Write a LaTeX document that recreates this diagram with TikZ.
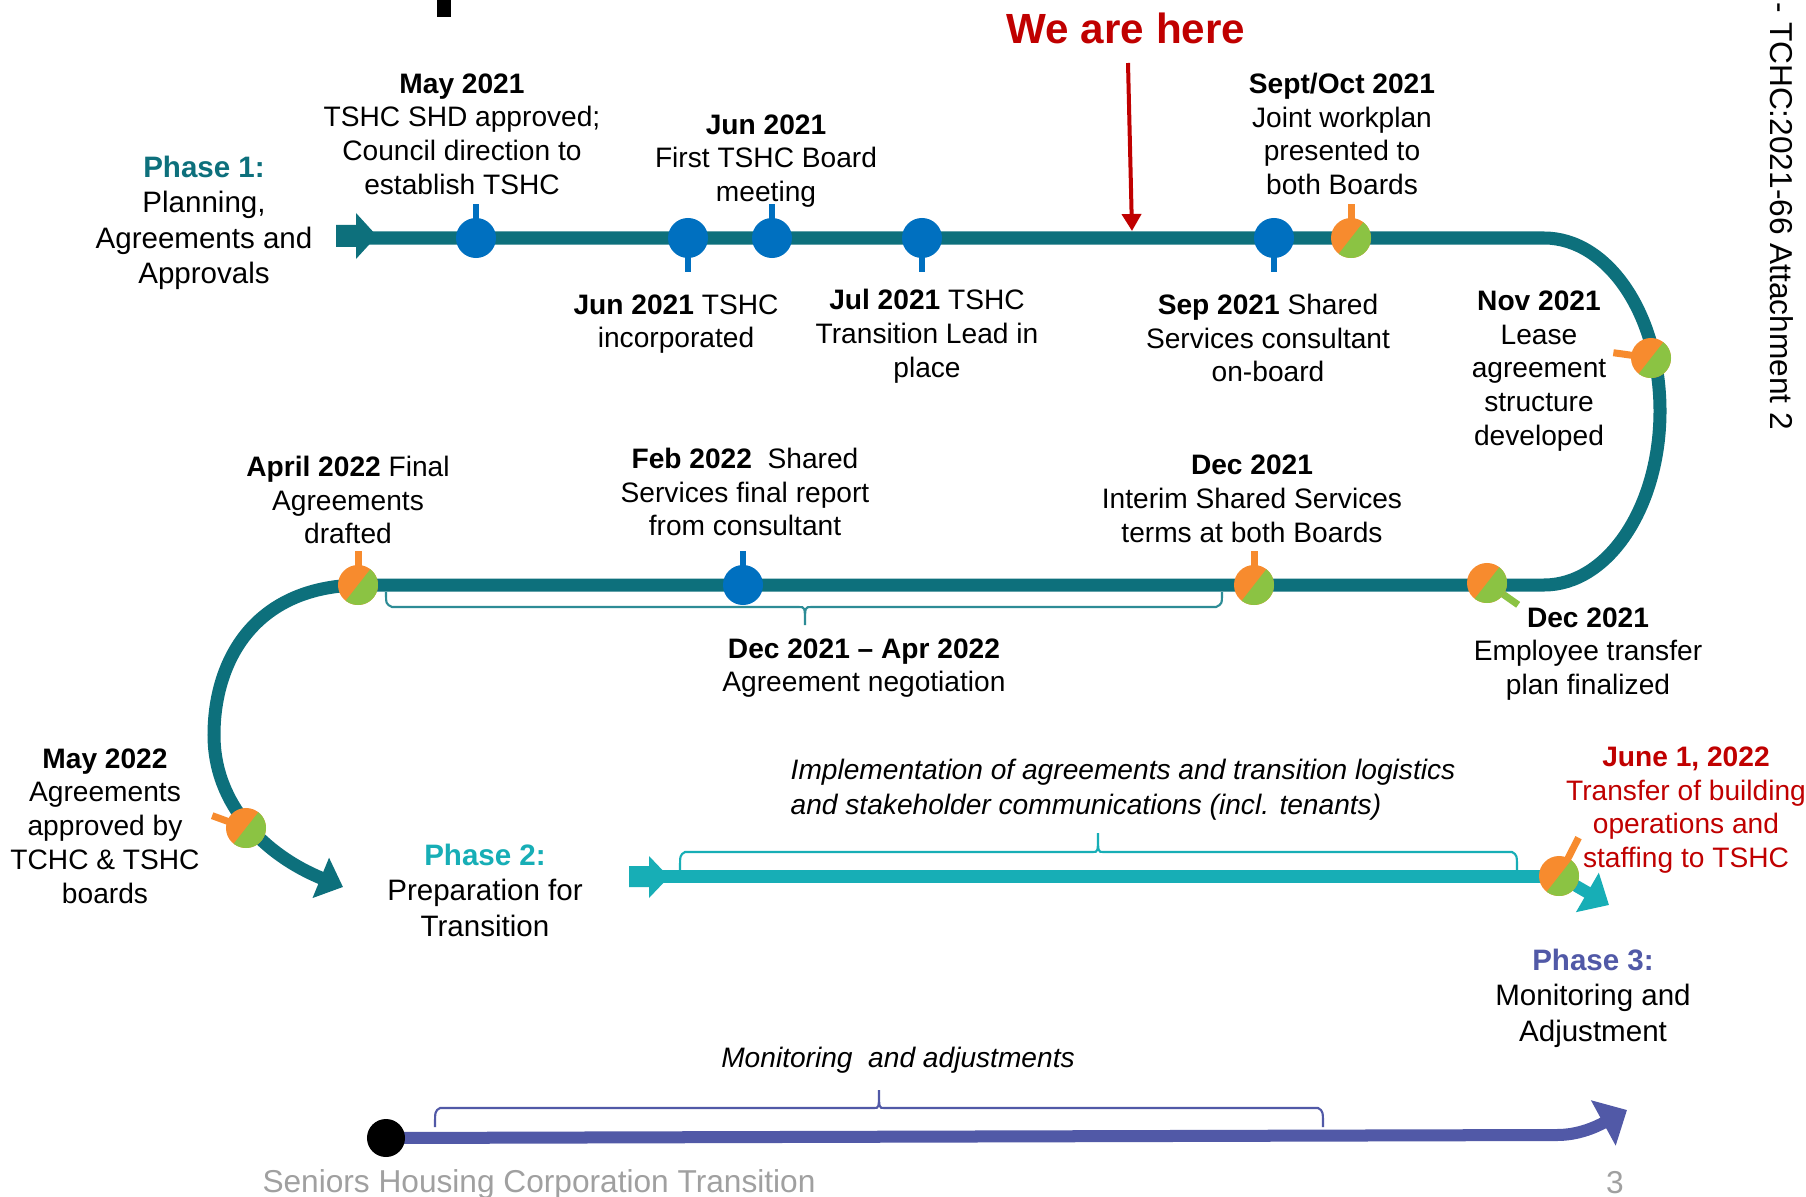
\documentclass[tikz,border=0pt]{standalone}
\usepackage{fontspec}
\setmainfont{Liberation Sans}
\usetikzlibrary{arrows.meta}
\definecolor{teal1}{RGB}{13,112,124}
\definecolor{tlblue}{RGB}{0,112,192}
\definecolor{oran}{RGB}{247,139,46}
\definecolor{gren}{RGB}{139,195,67}
\definecolor{cyan1}{RGB}{23,174,182}
\definecolor{purp}{RGB}{81,89,167}
\definecolor{redd}{RGB}{192,0,0}
\definecolor{grayt}{RGB}{160,160,160}
\definecolor{brteal}{RGB}{45,140,150}
\begin{document}
\begin{tikzpicture}[x=0.01cm, y=-0.01cm,
  ev/.style={font=\fontsize{8}{9.6}\selectfont, align=center, inner sep=0pt},
  ph/.style={font=\fontsize{8.4}{10.1}\selectfont, align=center, inner sep=0pt},
  track/.style={line width=0.13cm},
  thinbr/.style={line width=0.6pt},
  pics/bdot/.style={code={
     \draw[tlblue, line width=0.065cm] (0,0) -- (#1:0.34cm);
     \fill[tlblue] (0,0) circle[radius=0.2cm];}},
  pics/ogdot/.style n args={3}{code={
     \draw[#2, line width=0.07cm] (0,0) -- (#1:#3);
     \fill[oran] (0,0) circle[radius=0.2cm];
     \fill[gren] (52:0.2cm) arc[start angle=52, end angle=-128, radius=0.2cm] -- cycle;}},
]
% background and bounding box
\fill[white] (0,0) rectangle (1806,1197);
\useasboundingbox (0,0) rectangle (1806,1197);
\fill[black] (437,0) rectangle (451,17);

% marker positions
\coordinate (m1) at (476,238);
\coordinate (m2) at (688,238);
\coordinate (m3) at (772,238);
\coordinate (m4) at (922,238);
\coordinate (m5) at (1274,238);
\coordinate (m6) at (1351,238);
\coordinate (m7) at (1651,358);
\coordinate (m8) at (1487,583);
\coordinate (m9) at (1254,585);
\coordinate (m10) at (743,585);
\coordinate (m11) at (358,585);
\coordinate (m12) at (246,828);
\coordinate (m13) at (1559,876);

% Phase 1 track (top row, right loop, second row, left loop)
\coordinate (t1s) at (350,238);
\coordinate (t1e) at (343,887);
\draw[teal1, track, -{Triangle[length=0.24cm, width=0.42cm]}]
  (t1s) -- (1544,238) .. controls (1608,238) and (1660,315) .. (1660,411)
  .. controls (1660,507) and (1608,585) .. (1544,585) -- (m11)
  .. controls (255,587) and (214,660) .. (214,735)
  .. controls (214,805) and (265,855) .. (t1e);
\fill[teal1] (336,225) -- (356,225) -- (356,213) -- (377,236) -- (356,259) -- (356,247) -- (336,247) -- cycle;

% Phase 2 track
\fill[cyan1] (629,866) -- (649,866) -- (649,856) -- (669,877) -- (649,898) -- (649,887) -- (629,887) -- cycle;
\coordinate (t2s) at (660,876);
\coordinate (t2e) at (1609,905);
\draw[cyan1, track] (t2s) -- (m13);
\draw[cyan1, line width=0.12cm, -{Triangle[length=0.25cm, width=0.44cm]}] (m13) -- (t2e);

% Phase 3 track
\coordinate (t3s) at (386,1138);
\coordinate (t3e) at (1627,1110);
\draw[purp, line width=0.12cm, -{Triangle[length=0.27cm, width=0.5cm]}]
  (t3s) -- (1557,1135) .. controls (1577,1135) and (1594,1128) .. (t3e);
\fill[black] (t3s) circle[radius=0.19cm];

% brackets
\draw[brteal, thinbr] (386,592) .. controls (386,604) .. (392,607) -- (799,607)
  .. controls (805,607) .. (805,625) .. controls (805,607) .. (811,607) -- (1216,607)
  .. controls (1222,604) .. (1222,592);
\draw[cyan1, thinbr] (680,870) .. controls (680,855) .. (685,852) -- (1093,852)
  .. controls (1098,852) .. (1098,833) .. controls (1098,852) .. (1103,852) -- (1512,852)
  .. controls (1517,855) .. (1517,870);
\draw[purp, thinbr] (435,1127) .. controls (435,1111) .. (440,1108) -- (874,1108)
  .. controls (879,1108) .. (879,1090) .. controls (879,1108) .. (884,1108) -- (1318,1108)
  .. controls (1323,1111) .. (1323,1127);

% We are here arrow
\coordinate (hs) at (1128,63);
\coordinate (he) at (1132,231);
\draw[redd, line width=0.04cm, -{Triangle[length=0.17cm, width=0.19cm]}] (hs) -- (he);

% markers
\pic at (m1) {bdot=90};
\pic at (m2) {bdot=-90};
\pic at (m3) {bdot=90};
\pic at (m4) {bdot=-90};
\pic at (m5) {bdot=-90};
\pic at (m6) {ogdot={90}{oran}{0.34cm}};
\pic at (m7) {ogdot={172}{oran}{0.38cm}};
\pic at (m8) {ogdot={-35}{gren}{0.38cm}};
\pic at (m9) {ogdot={90}{oran}{0.34cm}};
\pic at (m10) {bdot=90};
\pic at (m11) {ogdot={90}{oran}{0.34cm}};
\pic at (m12) {ogdot={160}{oran}{0.36cm}};
\pic at (m13) {ogdot={63}{oran}{0.43cm}};

% texts
\node[ph] (p1) at (204,223) {\textcolor{teal1}{\textbf{Phase 1:}}\\Planning,\\Agreements and\\Approvals};
\node[ev] (e1) at (462,134) {\textbf{May 2021}\\TSHC SHD approved;\\Council direction to\\establish TSHC};
\node[ev] (e2) at (766,161) {\textbf{Jun 2021}\\First TSHC Board\\meeting};
\node[ev] (e3) at (676,324) {\textbf{Jun 2021} TSHC\\incorporated};
\node[ev] (e4) at (927,336) {\textbf{Jul 2021} TSHC\\Transition Lead in\\place};
\node[font=\fontsize{12}{14}\selectfont\bfseries, text=redd, inner sep=0pt] (here) at (1126,28) {We are here};
\node[ev] (e5) at (1342,134) {\textbf{Sept/Oct 2021}\\Joint workplan\\presented to\\both Boards};
\node[ev] (e6) at (1268,338) {\textbf{Sep 2021} Shared\\Services consultant\\on-board};
\node[ev] (e7) at (1539,371) {\textbf{Nov 2021}\\Lease\\agreement\\structure\\developed};
\node[ev] (e8) at (348,500) {\textbf{April 2022} Final\\Agreements\\drafted};
\node[ev] (e9) at (745,492) {\textbf{Feb 2022}\ \ Shared\\Services final report\\from consultant};
\node[ev] (e10) at (1252,499) {\textbf{Dec 2021}\\Interim Shared Services\\terms at both Boards};
\node[ev] (e11) at (1588,654) {\textbf{Dec 2021}\\Employee transfer\\plan finalized};
\node[ev] (e12) at (864,668) {\textbf{Dec 2021 – Apr 2022}\\Agreement negotiation};
\node[ev] (e13) at (105,826) {\textbf{May 2022}\\Agreements\\approved by\\TCHC \& TSHC\\boards};
\node[ph] (p2) at (485,890) {\textcolor{cyan1}{\textbf{Phase 2:}}\\Preparation for\\Transition};
\node[inner sep=0pt, align=left, anchor=west, font={\fontsize{8}{10}\selectfont\itshape}] (impl) at (790,790) {Implementation of agreements and transition logistics\\and stakeholder communications (incl. tenants)};
\node[ev, text=redd] (e14) at (1686,810) {\textbf{June 1, 2022}\\Transfer of building\\operations and\\staffing to TSHC};
\node[ph] (p3) at (1593,998) {\textcolor{purp}{\textbf{Phase 3:}}\\Monitoring and\\Adjustment};
\node[inner sep=0pt, font={\fontsize{8}{9.6}\selectfont\itshape}] (mon) at (898,1060) {Monitoring\ \ and adjustments};
\node[font=\fontsize{9}{11}\selectfont, text=grayt, inner sep=0pt] (foot) at (539,1184) {Seniors Housing Corporation Transition};
\node[font=\fontsize{9}{11}\selectfont, text=grayt, inner sep=0pt] (pg) at (1615,1183) {3};
\node[font=\fontsize{9}{11}\selectfont, rotate=-90, anchor=west, inner sep=0pt] (att) at (1782,2) {- TCHC:2021-66 Attachment 2};
\end{tikzpicture}
\end{document}
